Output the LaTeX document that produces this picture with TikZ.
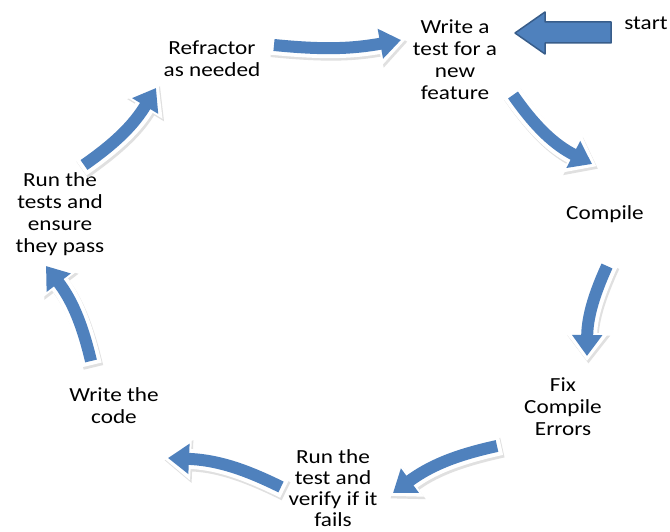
\documentclass[tikz,border=0pt]{standalone}
\usepackage{fontspec}
\setmainfont{Carlito}[FakeStretch=1.16]
\usetikzlibrary{arrows.meta}
\definecolor{arrblue}{HTML}{4F81BD}
\definecolor{arredge}{HTML}{385D8A}
\tikzset{
  lbl/.style={align=center,font=\fontsize{20}{22}\selectfont,inner sep=0pt,text=black},
  shadowarr/.style={draw=black!12,line width=20pt,-{Triangle[length=28pt,width=41pt]},shorten >=-5pt,shorten <=-4pt,transform canvas={shift={(1.5pt,-2.5pt)}}},
  whitearr/.style={draw=white,line width=20pt,-{Triangle[length=28pt,width=41pt]},shorten >=-5pt,shorten <=-4pt},
  bluearr/.style={draw=arrblue,line width=12pt,-{Triangle[length=21pt,width=29pt]}},
}
\newcommand\cycarrow[3]{%
  \draw[shadowarr] (#1) to[#3] (#2);
  \draw[whitearr] (#1) to[#3] (#2);
  \draw[bluearr] (#1) to[#3] (#2);
}
\begin{document}
\begin{tikzpicture}[x=1pt,y=-1pt]
\useasboundingbox[fill=white] (0,0) rectangle (670,532);
% labels
\node[lbl] (write) at (455,60) {Write a\\test for a\\new\\feature};
\node[lbl] (start) at (646,23) {start};
\node[lbl] (refactor) at (212,59) {Refractor\\as needed};
\node[lbl] (compile) at (605,214) {Compile};
\node[lbl] (fix) at (563,407) {Fix\\Compile\\Errors};
\node[lbl,font=\fontsize{20}{21}\selectfont] (runtest) at (333,488) {Run the\\test and\\verify if it\\fails};
\node[lbl] (code) at (114,406) {Write the\\code};
\node[lbl] (runtests) at (60,214) {Run the\\tests and\\ensure\\they pass};
% arrow end points
\coordinate (a1s) at (274,45);  \coordinate (a1e) at (401,40);
\coordinate (a2s) at (513,95);  \coordinate (a2e) at (592,164);
\coordinate (a3s) at (607,266); \coordinate (a3e) at (587,356);
\coordinate (a4s) at (497,446); \coordinate (a4e) at (393,493);
\coordinate (a5s) at (281,487); \coordinate (a5e) at (168,458);
\coordinate (a6s) at (91,361);  \coordinate (a6e) at (46,266);
\coordinate (a7s) at (84,165);  \coordinate (a7e) at (156,88);
\cycarrow{a1s}{a1e}{bend right=8}
\cycarrow{a2s}{a2e}{bend right=14}
\cycarrow{a3s}{a3e}{bend right=12}
\cycarrow{a4s}{a4e}{bend right=12}
\cycarrow{a5s}{a5e}{bend right=12}
\cycarrow{a6s}{a6e}{bend right=12}
\cycarrow{a7s}{a7e}{bend right=12}
% start arrow
\draw[fill=arrblue,draw=arredge,line width=1.5pt,line join=round]
  (515,33) -- (545,12) -- (545,22) -- (611,22) -- (611,43) -- (545,43) -- (545,54) -- cycle;
\end{tikzpicture}
\end{document}
